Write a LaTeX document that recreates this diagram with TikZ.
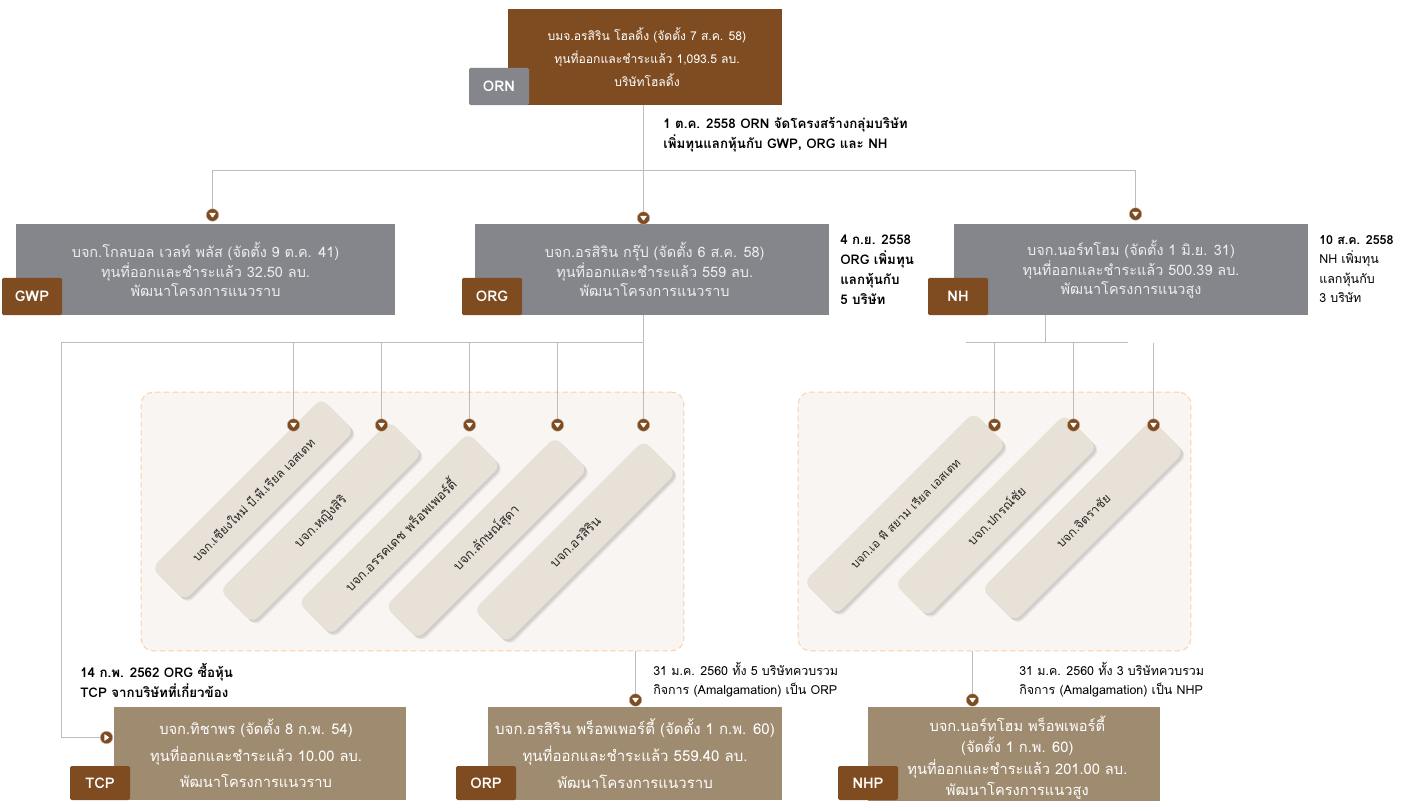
\documentclass[tikz,border=0pt]{standalone}
\usepackage{fontspec}
\setmainfont[Script=Thai]{Loma}
\usetikzlibrary{shadows,calc}
\definecolor{brownc}{HTML}{7F4C21}
\definecolor{grayc}{HTML}{85868B}
\definecolor{tanc}{HTML}{9F8B6F}
\definecolor{barc}{HTML}{E8E1D7}
\definecolor{panelc}{HTML}{F8F5F2}
\definecolor{dashc}{HTML}{FFCFA8}
\definecolor{linec}{HTML}{BDBDBD}
\definecolor{softw}{HTML}{EDEDED}
\newcommand{\nudge}[1]{\hspace*{#1}}
\tikzset{
  x=0.75pt,y=-0.75pt,
  lbox/.style={inner sep=0pt,align=center,font=\fontsize{10.85}{14.6}\selectfont,text=softw},
  topbox/.style={lbox,fill=brownc,minimum width=205.5pt,minimum height=72pt,text=white,font=\fontsize{9.1}{17.5}\selectfont},
  midbox/.style={lbox,fill=grayc,minimum height=68.25pt},
  lowbox/.style={lbox,fill=tanc,minimum height=69.75pt,font=\fontsize{11}{20}\selectfont,text=white},
  badge/.style={inner sep=0pt,rounded corners=1.2pt,minimum width=45pt,minimum height=28pt,font=\fontsize{11}{13}\bfseries\selectfont,text=white},
  bbadge/.style={badge,fill=brownc},
  gbadge/.style={badge,fill=grayc},
  note/.style={inner sep=0pt,anchor=north west,align=left,font=\fontsize{9.35}{14.6}\selectfont,text=black},
  bnote/.style={note,font=\fontsize{10}{14.8}\bfseries\selectfont},
  panel/.style={draw=dashc,fill=panelc,dashed,dash pattern=on 4pt off 2.5pt,line width=0.75pt,rounded corners=9pt},
  bar/.style={fill=barc,rounded corners=6pt,inner sep=0pt,minimum width=180pt,minimum height=34.5pt,text=black!85,
     drop shadow={shadow xshift=2.6pt,shadow yshift=-2.6pt,opacity=.07,fill=black},
     drop shadow={shadow xshift=1.6pt,shadow yshift=-1.6pt,opacity=.09,fill=black}},
  conn/.style={draw=linec,line width=0.75pt},
  dotd/.style={circle,fill=brownc,draw=brownc!35!white,line width=0.3pt,minimum size=9.4pt,inner sep=0pt,
     path picture={\fill[white,rounded corners=0.5pt] (-3.6,-2.2)--(3.6,-2.2)--(0,2.8)--cycle;}},
  dotr/.style={circle,fill=brownc,draw=brownc!35!white,line width=0.3pt,minimum size=9.4pt,inner sep=0pt,
     path picture={\fill[white,rounded corners=0.5pt] (-2.2,-3.6)--(-2.2,3.6)--(2.8,0)--cycle;}},
}
\begin{document}
\begin{tikzpicture}
\useasboundingbox[fill=white] (0,0) rectangle (1410,800);
% panels
\node[panel,minimum width=407pt,minimum height=194pt,inner sep=0pt] (pl) at (412.5,521.5) {};
\node[panel,minimum width=294.5pt,minimum height=194pt,inner sep=0pt] (pr) at (994.5,521.5) {};
% boxes
\node[topbox] (orn) at (645,57) {\nudge{3pt}บมจ.อรสิริน โฮลดิ้ง (จัดตั้ง 7 ส.ค. 58)\\\nudge{3pt}ทุนที่ออกและชำระแล้ว 1,093.5 ลบ.\\\nudge{3pt}บริษัทโฮลดิ้ง};
\node[midbox,minimum width=284.25pt] (gwp) at (205.5,269.5) {บจก.โกลบอล เวลท์ พลัส (จัดตั้ง 9 ต.ค. 41)\\ทุนที่ออกและชำระแล้ว 32.50 ลบ.\\พัฒนาโครงการแนวราบ};
\node[midbox,minimum width=265.5pt] (org) at (652,269.5) {\nudge{4pt}บจก.อรสิริน กรุ๊ป (จัดตั้ง 6 ส.ค. 58)\\\nudge{4pt}ทุนที่ออกและชำระแล้ว 559 ลบ.\\\nudge{4pt}พัฒนาโครงการแนวราบ};
\node[midbox,minimum width=265.5pt] (nh) at (1131,269.5) {บจก.นอร์ทโฮม (จัดตั้ง 1 มิ.ย. 31)\\ทุนที่ออกและชำระแล้ว 500.39 ลบ.\\พัฒนาโครงการแนวสูง};
\node[lowbox,minimum width=219pt] (tcp) at (260,753.5) {\hspace*{-6pt}บจก.ทิชาพร (จัดตั้ง 8 ก.พ. 54)\\\hspace*{-6pt}ทุนที่ออกและชำระแล้ว 10.00 ลบ.\\\hspace*{-6pt}พัฒนาโครงการแนวราบ};
\node[lowbox,minimum width=220.5pt,font=\fontsize{11.25}{20}\selectfont] (orp) at (635,753.5) {บจก.อรสิริน พร็อพเพอร์ตี้ (จัดตั้ง 1 ก.พ. 60)\\ทุนที่ออกและชำระแล้ว 559.40 ลบ.\\พัฒนาโครงการแนวราบ};
\node[lowbox,minimum width=219pt,minimum height=75.75pt,font=\fontsize{11}{16}\selectfont] (nhp) at (1014,757.5) {\nudge{5pt}บจก.นอร์ทโฮม พร็อพเพอร์ตี้\\\nudge{5pt}(จัดตั้ง 1 ก.พ. 60)\\\nudge{5pt}ทุนที่ออกและชำระแล้ว 201.00 ลบ.\\\nudge{5pt}พัฒนาโครงการแนวสูง};
% badges
\node[gbadge] (bORN) at (499,86.5) {ORN};
\node[bbadge] (bgwp) at (32,296.5) {GWP};
\node[bbadge] (borg) at (492,296.5) {ORG};
\node[bbadge] (bnh) at (958,296.5) {NH};
\node[bbadge,minimum height=25.5pt] (btcp) at (100,783) {TCP};
\node[bbadge,minimum height=25.5pt] (borp) at (486,783) {ORP};
\node[bbadge,minimum height=25.5pt] (bnhp) at (868,783) {NHP};
% bars
\foreach \nm/\cx/\cy/\fs/\txt in {
 b1/253/499.5/9.1/{บจก.เชียงใหม่ บี.พี.เรียล เอสเตท},
 b2/321/522/9.7/{บจก.หญิงสิริ},
 b3/399.5/534/9.7/{บจก.อรรคเดช พร็อพเพอร์ตี้},
 b4/486.5/538/9.7/{บจก.ลักษณ์สุดา},
 b5/575/541.5/9.7/{บจก.อรสิริน},
 b6/905/513.5/8.8/{บจก.เอ พี สยาม เรียล เอสเตท},
 b7/996/515.5/9.4/{บจก.ปกรณ์ชัย},
 b8/1083/520.5/9.25/{บจก.จิตราชัย}}{
  \node[bar,rotate=45,font=\fontsize{\fs}{12}\selectfont] (\nm) at (\cx,\cy) {\txt};
}
% dots
\node[dotd] (d1) at (212.5,215) {};
\node[dotd] (d2) at (643.5,218) {};
\node[dotd] (d3) at (1135.5,214) {};
\node[dotd] (e1) at (293.5,425) {};
\node[dotd] (e2) at (381.5,425) {};
\node[dotd] (e3) at (469.5,425) {};
\node[dotd] (e4) at (557.5,425) {};
\node[dotd] (e5) at (643.5,425) {};
\node[dotd] (f1) at (994.5,425) {};
\node[dotd] (f2) at (1073.5,425) {};
\node[dotd] (f3) at (1153.5,425) {};
\node[dotd] (g2) at (635.5,700) {};
\node[dotd] (g3) at (972.5,700) {};
\node[dotr] (g1) at (106.5,737.5) {};
% junction coordinates
\coordinate (j1) at (643.5,170.5);
\coordinate (jl) at (212.5,170.5);
\coordinate (jr) at (1135.5,170.5);
\coordinate (k0) at (643.5,342.5);
\coordinate (kl) at (61.5,342.5);
\coordinate (m0) at (1045.5,342.5);
\coordinate (ml) at (966,342.5);
\coordinate (mr) at (1128,342.5);
\coordinate (n3) at (1153.5,342.5);
\coordinate (kb) at (61.5,737.5);
% connectors
\draw[conn] (j1 |- orn.south) -- (d2);
\draw[conn] (d1) -- (jl) -- (jr) -- (d3);
\draw[conn] (k0 |- org.south) -- (e5);
\draw[conn] (k0) -- (kl) -- (kb) -- (g1);
\draw[conn] (e1 |- k0) -- (e1);
\draw[conn] (e2 |- k0) -- (e2);
\draw[conn] (e3 |- k0) -- (e3);
\draw[conn] (e4 |- k0) -- (e4);
\draw[conn] (m0 |- nh.south) -- (m0);
\draw[conn] (ml) -- (mr);
\draw[conn] (f1 |- m0) -- (f1);
\draw[conn] (f2 |- m0) -- (f2);
\draw[conn] (n3) -- (f3);
\draw[conn] (g2 |- pl.south) -- (g2);
\draw[conn] (g3 |- pr.south) -- (g3);
% notes
\node[bnote] (n1) at (663,117.5) {1 ต.ค. 2558 ORN จัดโครงสร้างกลุ่มบริษัท\\เพิ่มทุนแลกหุ้นกับ GWP, ORG และ NH};
\node[bnote] (n2) at (840,235) {4 ก.ย. 2558\\ORG เพิ่มทุน\\แลกหุ้นกับ\\5 บริษัท};
\node[note] (n4) at (1319,235) {\textbf{10 ส.ค. 2558}\\NH เพิ่มทุน\\แลกหุ้นกับ\\3 บริษัท};
\node[bnote] (n5) at (80,663) {14 ก.พ. 2562 ORG ซื้อหุ้น\\TCP จากบริษัทที่เกี่ยวข้อง};
\node[note] (n6) at (653,662) {31 ม.ค. 2560 ทั้ง 5 บริษัทควบรวม\\กิจการ (Amalgamation) เป็น ORP};
\node[note] (n7) at (1019,662) {31 ม.ค. 2560 ทั้ง 3 บริษัทควบรวม\\กิจการ (Amalgamation) เป็น NHP};
\end{tikzpicture}
\end{document}
